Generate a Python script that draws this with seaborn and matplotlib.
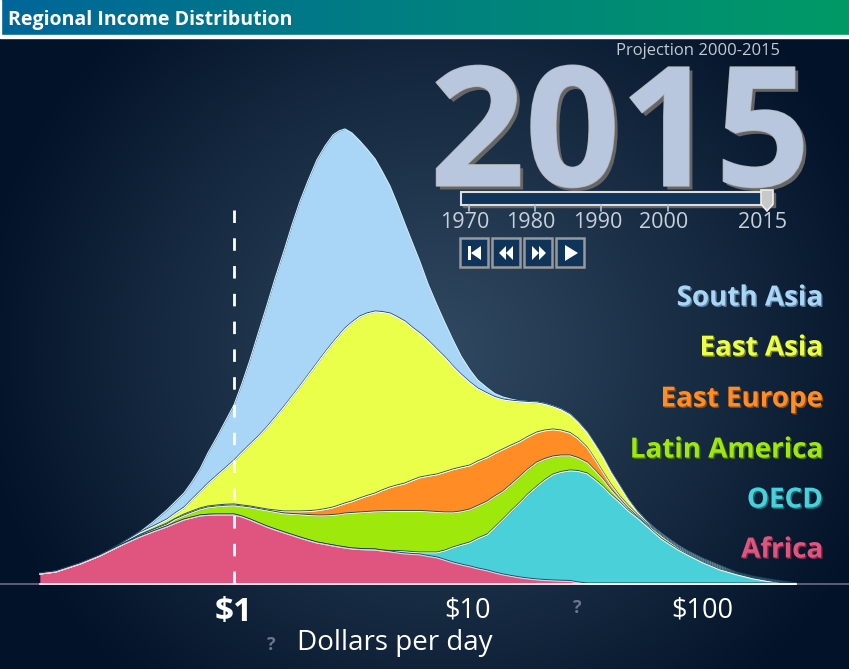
#!/usr/bin/env python3
"""Regional income distribution, stacked on a log dollar axis."""

import matplotlib.patheffects as pe
import matplotlib.pyplot as plt
import numpy as np
import seaborn as sns
from matplotlib.patches import FancyBboxPatch, Polygon, Rectangle

# dollars per day, one column per reading
dollars = [0.148, 0.173, 0.220, 0.267, 0.326, 0.397, 0.451, 0.517, 0.560, 0.612, 0.661, 0.716,
           0.774, 0.846, 0.915, 1.00, 1.08, 1.17, 1.27, 1.38, 1.50, 1.64, 1.77, 1.91, 2.07, 2.26,
           2.45, 2.65, 2.81, 2.98, 3.19, 3.45, 3.70, 4.01, 4.29, 4.64, 4.97, 5.38, 5.77, 6.24,
           6.75, 7.37, 7.98, 8.63, 9.34, 10.2, 11.0, 12.1, 13.0, 14.1, 15.3, 16.7, 18.0, 19.7,
           21.3, 23.1, 25.0, 27.3, 29.5, 32.3, 34.9, 37.8, 40.8, 44.6, 48.3, 52.8, 57.1, 61.7,
           66.8, 73.0, 78.9, 86.3, 93.3, 101, 119, 141, 165, 195, 222, 252]

# upper edge of each region in the stack
africa = [10, 12, 20, 28, 38, 47, 52, 57, 60.5, 64, 66, 68, 68.7, 69, 69, 69, 67, 64, 60.5, 57,
          54, 51, 48.5, 46, 43.5, 41, 39.5, 38, 37, 36, 35, 34.5, 34.2, 34, 33, 32, 31, 30, 29.5,
          29, 27.5, 26, 23.5, 21, 19, 17, 15, 13, 11, 9, 7.5, 6, 5, 4, 3.5, 3, 2.7, 2.5, 1,
          0, 0, 0, 0, 0, 0, 0, 0, 0, 0, 0, 0, 0, 0, 0, 0, 0, 0, 0, 0, 0]
oecd = [10, 12, 20, 28, 38, 47, 52, 57, 60.5, 64, 66, 68, 68.7, 69, 69, 69, 67, 64, 60.5, 57,
        54, 51, 48.5, 46, 43.5, 41, 39.5, 38, 37, 36, 35, 34.5, 34.2, 34, 33, 32.5, 32.5, 32, 31.5,
        31, 31, 31, 33, 36, 38.5, 41, 45, 49, 56, 64, 72.5, 81, 89, 97, 103.5, 109, 111.5, 113,
        112.5, 110, 104, 97, 89, 81, 73, 66, 59, 52, 45, 39, 34, 29, 25, 21, 14, 9, 5, 2, 0, 0]
latin_america = [10, 12, 20, 28, 38, 48, 53.5, 59, 64, 68, 71, 74, 76, 77, 77.7, 78, 77, 76, 74.5,
                 73, 71.5, 70, 69.5, 69, 68.5, 68, 68, 68.5, 69, 70, 70.5, 71, 71.5, 72, 72.2,
                 72.5, 72.5, 72.5, 72.5, 72.5, 72, 71.5, 71, 71, 72, 74, 77.5, 82, 87, 92, 99, 107,
                 114, 121, 124.5, 127, 128, 128, 125.5, 121, 113, 104, 94, 84, 75, 67, 60, 54,
                 47.5, 41, 35.5, 30, 26, 22, 15, 9.5, 5.5, 2.5, 0.5, 0]
east_europe = [10, 12, 20, 28, 38, 48.5, 54, 60, 64.5, 69, 72, 75, 77, 78, 78.7, 79, 78, 77, 75.5,
               74, 73, 72, 72, 72, 72.3, 73, 74.3, 76, 78, 80, 82, 85, 87.5, 90, 93, 96, 98, 100,
               103, 106, 107.5, 109, 111.5, 114, 116, 118, 122, 126, 130, 134, 138, 142, 146.5,
               151, 153, 154, 153, 150.5, 145, 136, 124, 111, 99, 87, 78, 69, 61.5, 55, 48.5, 42,
               36.5, 31, 27, 23, 16, 10, 6, 3, 1, 0]
east_asia = [10, 12, 20, 28, 39, 51, 57, 64, 70, 76, 84, 92, 100, 108, 115, 123, 131, 139, 147,
             156, 166, 177, 187, 197, 208, 220, 231, 241, 248, 255, 261, 267, 270, 272, 271.5,
             270, 266.5, 262, 256, 250, 243, 234, 226, 217, 209, 201, 195, 190, 186.5, 184,
             182.8, 182, 181.5, 181, 179.5, 177, 174, 169, 161.5, 151, 139, 126, 111.5, 97, 84,
             72, 63.5, 56, 49.5, 43, 37.5, 32, 28, 24, 17, 10.5, 6.5, 3.5, 1.5, 0]
south_asia = [10, 12, 20, 28, 39.5, 52, 62, 74, 82, 91, 102, 115, 131, 147, 162, 179, 200, 224, 251,
              278, 306, 334, 359, 382, 403, 424, 438, 449, 453, 455, 451, 443, 435, 425, 413, 398,
              381, 360, 342, 322, 300, 279, 261, 244, 228, 214, 204, 196, 190.5, 187, 184.8, 183,
              182.5, 182, 180.5, 178, 175, 170, 162.5, 152, 140, 127, 112.5, 98, 85, 73, 64.5, 57,
              50.5, 44, 38.5, 33, 29, 25, 18, 11, 7, 4, 2, 0]

regions = ["South Asia", "East Asia", "East Europe", "Latin America", "OECD", "Africa"]
region_tops = [south_asia, east_asia, east_europe, latin_america, oecd, africa]
region_colors = ["#a9d6f7", "#eaff4a", "#ff8c24", "#9fe80c", "#49d0d8", "#e0557f"]
label_shadows = ["#5d7f9c", "#7c7f1c", "#8f4c10", "#4c7008", "#1f6d77", "#7a2846"]
edge_colors = ["#d8eefc", "#ffffff", "#f4f4e0", "#e8f4d0", "#e4f8f8", "#f4c8d8"]

tick_dollars = [1, 10, 100]
tick_labels = ["$1", "$10", "$100"]
slider_years = [1970, 1980, 1990, 2000, 2015]

W, H = 849, 669
FONT = "Open Sans"


def year_px(year):
    return np.interp(year, [1970, 2015], [469, 767])


def draw_background(fig):
    back = fig.add_axes([0, 0, 1, 1], zorder=0)
    yy, xx = np.mgrid[0:H, 0:W]
    r = np.clip(np.hypot((xx - 440) / 470, (yy - 350) / 450), 0, 1) ** 1.05
    inner, outer = np.array([0x30, 0x49, 0x61]), np.array([0x02, 0x12, 0x28])
    image = inner + (outer - inner) * r[..., None]
    back.imshow(image.astype(np.uint8), extent=(0, W, H, 0), aspect="auto")
    # header band
    band = np.linspace(0, 1, W)[None, :, None]
    head = np.array([0x00, 0x66, 0x9a]) + (np.array([0x00, 0x9a, 0x66]) - np.array([0x00, 0x66, 0x9a])) * band
    back.imshow(head.astype(np.uint8), extent=(0, W, 35, 0), aspect="auto")
    back.add_patch(Rectangle((0, 35), W, 2.5, color="white"))
    back.add_patch(Rectangle((0, 0), 1, 36, color="white"))
    back.set_xlim(0, W)
    back.set_ylim(H, 0)
    back.axis("off")


def draw_stack(fig):
    ax = fig.add_axes([0, 0, 1, 1], zorder=1)
    ax.patch.set_visible(False)
    ax.set_xscale("log")
    lower_edges = region_tops[1:] + [[0] * len(dollars)]
    for top, lower, color in zip(region_tops, lower_edges, region_colors):
        ax.fill_between(dollars, lower, top, color=color, lw=0)
    for top, edge in zip(region_tops, edge_colors):
        sns.lineplot(x=dollars, y=top, color=edge, lw=0.8, sort=False, estimator=None, ax=ax,
                     path_effects=[pe.SimpleLineShadow(offset=(0, 0.7), shadow_color="#13405a", alpha=0.9),
                                   pe.Normal()])
    ax.axhline(0, color="#6e6a85", lw=1.2, zorder=0.5)
    ax.plot([1, 1], [374, -6], color="white", lw=2, dashes=(9, 11))

    ax.set_xlim(10 ** (-234 / 234), 10 ** ((W - 234) / 234))
    ax.set_ylim(584 - H, 584)
    for side in ("top", "left", "right"):
        ax.spines[side].set_visible(False)
    ax.spines["bottom"].set_position(("data", 0))
    ax.spines["bottom"].set_bounds(dollars[0], dollars[-1])
    ax.spines["bottom"].set_color("white")
    ax.spines["bottom"].set_linewidth(1.2)
    ax.set_yticks([])
    ax.set_xticks(tick_dollars, tick_labels, color="white", fontsize=19.5)
    ax.minorticks_off()
    ax.tick_params(axis="x", which="minor", length=0)
    ax.tick_params(axis="x", length=3, width=0.8, color="white", pad=6)
    ax.get_xticklabels()[0].set_fontsize(24)
    ax.get_xticklabels()[0].set_fontweight("bold")
    ax.set_xlabel("Dollars per day", color="white", fontsize=20)
    ax.xaxis.set_label_coords(394.5 / W, 1 - 643 / H)
    ax.xaxis.label.set_va("center")
    ax.grid(False)


def draw_panel(fig):
    ui = fig.add_axes([0, 0, 1, 1], zorder=2)
    ui.patch.set_visible(False)
    ui.set_xlim(0, W)
    ui.set_ylim(H, 0)
    ui.axis("off")

    ui.text(8, 20, "Regional Income Distribution", color="white", fontsize=14, fontweight="bold",
            va="center")
    ui.text(698, 51, "Projection 2000-2015", color="#c3cad2", fontsize=12, ha="center", va="center")

    # big year
    ui.text(620, 186, "2015", color="#b8c7dd", fontsize=120, fontweight="bold", ha="center",
            va="baseline",
            path_effects=[pe.SimplePatchShadow(offset=(2.5, -2.5), shadow_rgbFace="#666666", alpha=1),
                          pe.Stroke(linewidth=1, foreground="#b0b0b0"), pe.Normal()])

    # slider
    ui.add_patch(Rectangle((463, 193), 312, 14, color="#666666", zorder=4))
    ui.add_patch(Rectangle((461.5, 191.5), 311, 13, facecolor="#10335a", edgecolor="#dddddd", lw=1.5, zorder=4))
    for year in slider_years:
        x = year_px(year)
        if year != 2015:
            ui.plot([x, x], [205, 211], color="#a9c4de", lw=1.2, zorder=4)
        ui.text(x - 4, 222, str(year), color="#c8d0d8", fontsize=15.5, ha="center", va="center")
    thumb = year_px(2015)
    ui.add_patch(Polygon([(thumb - 6, 190), (thumb + 6, 190), (thumb + 6, 204), (thumb, 211), (thumb - 6, 204)],
                         facecolor="#c8c8c8", edgecolor="#eeeeee", lw=1.2, zorder=5))

    # player buttons
    icons = [
        [[(8, 8), (11, 8), (11, 22), (8, 22)], [(11, 15), (21, 8), (21, 22)]],
        [[(7, 15), (14, 8), (14, 22)], [(14, 15), (21, 8), (21, 22)]],
        [[(8, 8), (15, 15), (8, 22)], [(15, 8), (22, 15), (15, 22)]],
        [[(9, 7), (22, 15), (9, 23)]],
    ]
    for left, shapes in zip((460, 492, 524, 556), icons):
        ui.add_patch(FancyBboxPatch((left, 238), 28.5, 28.5, boxstyle="square,pad=0",
                                    facecolor="#10335a", edgecolor="#999999", lw=1.8))
        for shape in shapes:
            ui.add_patch(Polygon([(left + px, 238 + py) for px, py in shape], color="white", lw=0))

    # region names
    for name, color, shadow, y in zip(regions, region_colors, label_shadows, (298, 348, 399, 450, 500, 550)):
        ui.text(823, y, name, color=color, fontsize=20, fontweight="bold", ha="right", va="center",
                path_effects=[pe.withSimplePatchShadow(offset=(1, -1), shadow_rgbFace=shadow, alpha=1)])

    for x, y in ((271, 645), (577, 608)):
        ui.text(x, y, "?", color="#6b7888", fontsize=13, fontweight="bold", ha="center", va="center")


def main() -> None:
    sns.set_style("dark")
    plt.rcParams["font.family"] = [FONT, "DejaVu Sans"]
    plt.rcParams["lines.scale_dashes"] = False
    fig = plt.figure(figsize=(W / 100, H / 100), dpi=100)
    draw_background(fig)
    draw_stack(fig)
    draw_panel(fig)
    fig.savefig("out.png", dpi=100)


if __name__ == "__main__":
    main()
